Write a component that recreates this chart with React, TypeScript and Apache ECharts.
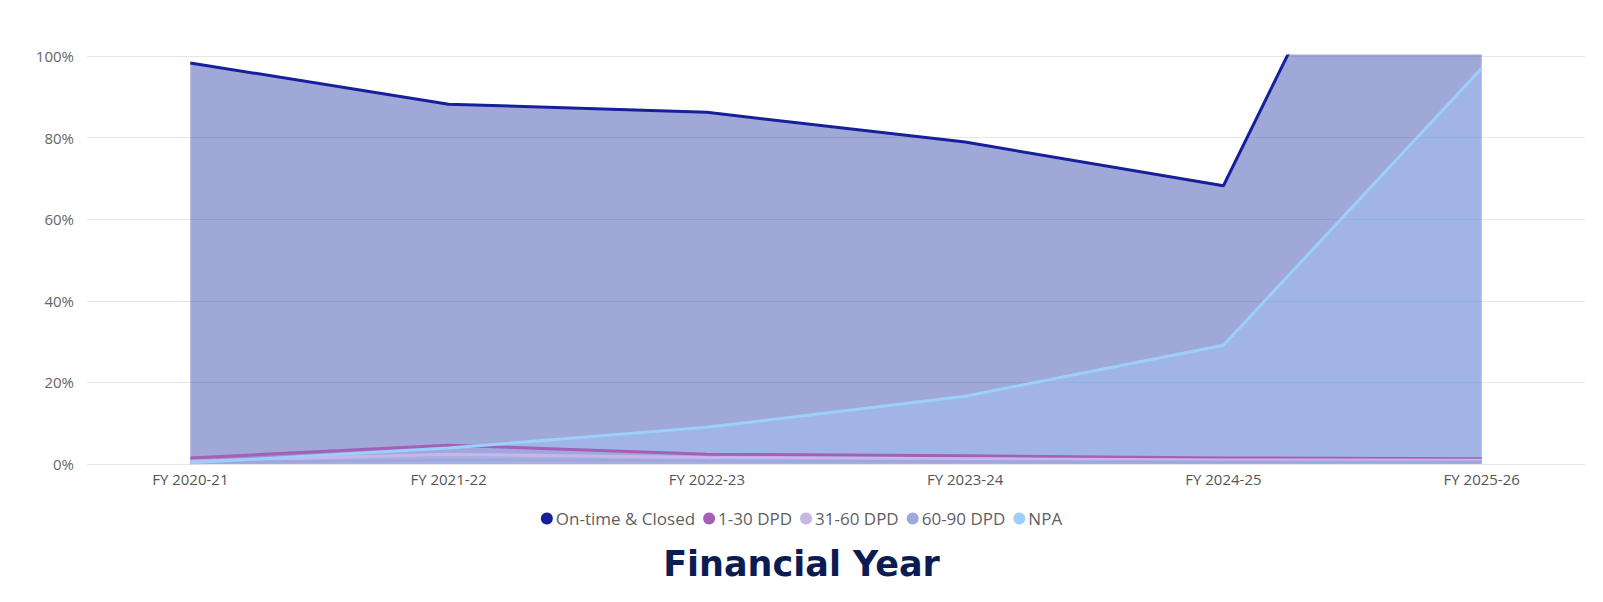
import React, { useEffect, useRef } from "react";
import * as echarts from "echarts";

const categories = ["FY 2020-21", "FY 2021-22", "FY 2022-23", "FY 2023-24", "FY 2024-25", "FY 2025-26"];
const onTimeClosed = [98.3, 88.2, 86.2, 78.9, 68.2, 197];
const dpd1to30 = [1.5, 4.6, 2.4, 2.0, 1.5, 1.3];
const dpd31to60 = [0.7, 2.4, 1.6, 1.3, 1.0, 0.9];
const dpd60to90 = [0.3, 1.0, 0.8, 0.6, 0.5, 0.5];
const npa = [0.3, 3.9, 9.0, 16.6, 29.1, 97.0];
const yTicks = [0, 20, 40, 60, 80, 100];

const seriesDefs = [
  { name: "On-time & Closed", data: onTimeClosed, color: "#15209a", area: "rgba(57,73,171,0.48)" },
  { name: "1-30 DPD", data: dpd1to30, color: "#a460b4", area: "rgba(164,96,180,0.35)" },
  { name: "31-60 DPD", data: dpd31to60, color: "#c8b6e8", area: "rgba(200,182,232,0.4)" },
  { name: "60-90 DPD", data: dpd60to90, color: "#9fa8da", area: "rgba(159,168,218,0.4)" },
  { name: "NPA", data: npa, color: "#9ccffa", area: "rgba(160,200,250,0.42)" },
];

export default function App() {
  const ref = useRef<HTMLDivElement>(null);
  useEffect(() => {
    document.body.style.margin = "0";
    if (!ref.current) return;
    const chart = echarts.init(ref.current, undefined, { renderer: "svg" });
    chart.setOption({
      animation: false,
      backgroundColor: "#ffffff",
      title: {
        text: "Financial Year",
        left: "center",
        top: 541,
        textStyle: { fontSize: 35, fontWeight: 700, color: "#0b1c53", fontFamily: "DejaVu Sans" },
      },
      legend: {
        top: 505,
        left: "center",
        icon: "circle",
        itemWidth: 12,
        itemHeight: 12,
        itemGap: 8,
        textStyle: { color: "#5f5f5f", fontSize: 17, fontFamily: "Open Sans", padding: [0, 0, 0, -2] },
        data: seriesDefs.map((s) => s.name),
      },
      grid: { left: 87, right: 18, top: 56, bottom: 138 },
      xAxis: {
        type: "value",
        min: -0.4,
        max: 5.4,
        axisLine: { show: false },
        axisTick: { show: false },
        splitLine: { show: false },
        axisLabel: {
          customValues: categories.map((_, i) => i),
          formatter: (v: number) => categories[Math.round(v)] ?? "",
          color: "#555555",
          fontSize: 15,
          fontFamily: "Open Sans",
          margin: 7,
        },
      },
      yAxis: {
        type: "value",
        min: 0,
        max: 100,
        interval: 20,
        axisLine: { show: false },
        axisTick: { show: false },
        splitLine: { lineStyle: { color: "#e6e6e6", width: 1 } },
        axisLabel: {
          formatter: (v: number) => (yTicks.includes(v) ? v + "%" : ""),
          color: "#666666",
          fontSize: 15,
          fontFamily: "Open Sans",
          margin: 13,
        },
      },
      series: seriesDefs.map((s) => ({
        name: s.name,
        type: "line",
        data: s.data.map((v, i) => [i, v]),
        showSymbol: false,
        symbol: "none",
        clip: true,
        itemStyle: { color: s.color },
        lineStyle: { color: s.color, width: 3 },
        areaStyle: { color: s.area, opacity: 1 },
      })),
    });
    return () => chart.dispose();
  }, []);
  return <div ref={ref} style={{ width: 1603, height: 602 }} />;
}
